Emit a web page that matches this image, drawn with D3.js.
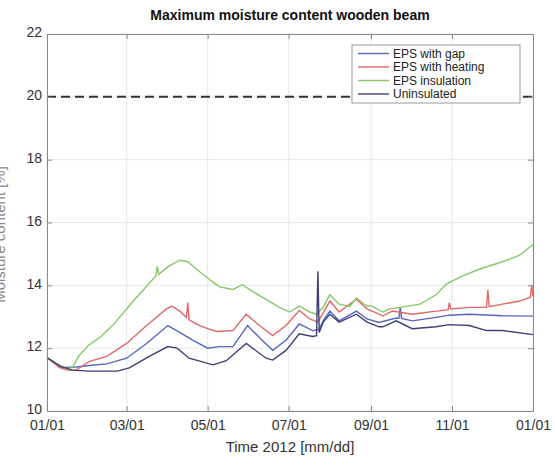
<!DOCTYPE html>
<html>
<head>
<meta charset="utf-8">
<script src="https://cdn.jsdelivr.net/npm/d3@7/dist/d3.min.js"></script>
<style>
  body { margin: 0; background: #fff; }
  text { font-family: "Liberation Sans", Arial, sans-serif; }
</style>
</head>
<body>
<div id="chart"></div>
<script>
// values: [date, moisture content]
const epsGap = [
  ["2012-01-01", 11.7], ["2012-01-11", 11.38], ["2012-01-23", 11.4], ["2012-02-02", 11.45],
  ["2012-02-15", 11.5], ["2012-03-01", 11.68], ["2012-03-16", 12.15], ["2012-04-01", 12.72],
  ["2012-04-08", 12.55], ["2012-04-20", 12.25], ["2012-05-01", 12.0], ["2012-05-10", 12.05],
  ["2012-05-20", 12.05], ["2012-05-31", 12.72], ["2012-06-11", 12.25], ["2012-06-19", 11.93],
  ["2012-06-29", 12.25], ["2012-07-09", 12.77], ["2012-07-19", 12.56], ["2012-07-24", 12.6],
  ["2012-07-27", 12.87], ["2012-08-01", 13.18], ["2012-08-08", 12.87], ["2012-08-21", 13.18],
  ["2012-08-29", 12.93], ["2012-09-07", 12.82], ["2012-09-20", 12.96], ["2012-09-22", 12.95],
  ["2012-09-23", 13.3], ["2012-09-24", 12.95], ["2012-10-02", 12.87], ["2012-10-20", 12.98],
  ["2012-10-30", 13.05], ["2012-11-14", 13.08], ["2012-12-09", 13.03], ["2013-01-01", 13.02]
];
const epsHeating = [
  ["2012-01-01", 11.7], ["2012-01-10", 11.4], ["2012-01-16", 11.3], ["2012-01-23", 11.3],
  ["2012-02-02", 11.58], ["2012-02-15", 11.74], ["2012-03-01", 12.15], ["2012-03-16", 12.72],
  ["2012-03-31", 13.25], ["2012-04-04", 13.34], ["2012-04-10", 13.18], ["2012-04-15", 12.98],
  ["2012-04-16", 13.45], ["2012-04-17", 12.9], ["2012-04-20", 12.83], ["2012-04-25", 12.72],
  ["2012-05-01", 12.62], ["2012-05-08", 12.53], ["2012-05-20", 12.56], ["2012-05-30", 13.08],
  ["2012-06-09", 12.72], ["2012-06-19", 12.4], ["2012-06-29", 12.72], ["2012-07-09", 13.2],
  ["2012-07-17", 12.93], ["2012-07-23", 12.83], ["2012-08-01", 13.5], ["2012-08-08", 13.15],
  ["2012-08-21", 13.56], ["2012-08-29", 13.25], ["2012-09-10", 13.03], ["2012-09-17", 13.18],
  ["2012-10-02", 13.08], ["2012-10-20", 13.18], ["2012-10-29", 13.22], ["2012-10-30", 13.45],
  ["2012-10-31", 13.25], ["2012-11-14", 13.3], ["2012-11-27", 13.3], ["2012-11-28", 13.86],
  ["2012-11-29", 13.32], ["2012-12-09", 13.4], ["2012-12-22", 13.5], ["2012-12-30", 13.62],
  ["2012-12-31", 14.0], ["2013-01-01", 13.65]
];
const epsInsulation = [
  ["2012-01-01", 11.7], ["2012-01-08", 11.5], ["2012-01-16", 11.35], ["2012-01-20", 11.38],
  ["2012-01-25", 11.75], ["2012-02-01", 12.08], ["2012-02-10", 12.35], ["2012-02-20", 12.75],
  ["2012-03-06", 13.5], ["2012-03-23", 14.3], ["2012-03-24", 14.6], ["2012-03-25", 14.35],
  ["2012-04-02", 14.62], ["2012-04-10", 14.8], ["2012-04-16", 14.75], ["2012-04-25", 14.43],
  ["2012-05-05", 14.1], ["2012-05-10", 13.95], ["2012-05-20", 13.87], ["2012-05-27", 14.02],
  ["2012-06-04", 13.8], ["2012-06-14", 13.55], ["2012-06-24", 13.3], ["2012-07-02", 13.15],
  ["2012-07-09", 13.34], ["2012-07-17", 13.15], ["2012-07-22", 13.08], ["2012-07-27", 13.3],
  ["2012-08-01", 13.7], ["2012-08-08", 13.4], ["2012-08-16", 13.33], ["2012-08-21", 13.6],
  ["2012-08-29", 13.33], ["2012-09-01", 13.35], ["2012-09-10", 13.15], ["2012-09-15", 13.25],
  ["2012-09-23", 13.3], ["2012-10-08", 13.4], ["2012-10-20", 13.7], ["2012-10-28", 14.05],
  ["2012-11-09", 14.3], ["2012-11-22", 14.52], ["2012-12-09", 14.75], ["2012-12-22", 14.96],
  ["2013-01-01", 15.3]
];
const uninsulated = [
  ["2012-01-01", 11.7], ["2012-01-11", 11.43], ["2012-01-20", 11.3], ["2012-02-02", 11.27],
  ["2012-02-23", 11.27], ["2012-03-03", 11.37], ["2012-03-18", 11.74], ["2012-04-01", 12.05],
  ["2012-04-08", 12.0], ["2012-04-17", 11.68], ["2012-05-05", 11.47], ["2012-05-15", 11.6],
  ["2012-05-30", 12.15], ["2012-06-14", 11.68], ["2012-06-19", 11.62], ["2012-06-29", 11.93],
  ["2012-07-09", 12.46], ["2012-07-19", 12.37], ["2012-07-22", 12.4], ["2012-07-23", 14.45],
  ["2012-07-24", 12.5], ["2012-07-27", 12.83], ["2012-08-01", 13.08], ["2012-08-08", 12.83],
  ["2012-08-21", 13.08], ["2012-08-29", 12.83], ["2012-09-07", 12.68], ["2012-09-10", 12.68],
  ["2012-09-20", 12.87], ["2012-10-02", 12.62], ["2012-10-20", 12.68], ["2012-10-30", 12.75],
  ["2012-11-14", 12.72], ["2012-11-27", 12.56], ["2012-12-09", 12.56], ["2013-01-01", 12.43]
];

const seriesNames = ["EPS with gap", "EPS with heating", "EPS insulation", "Uninsulated"];
const seriesColors = ["#5565c2", "#e06868", "#88c668", "#3f3f78"];
const seriesData = [epsGap, epsHeating, epsInsulation, uninsulated];

const yTicks = [10, 12, 14, 16, 18, 20, 22];
const xTickDates = ["2012-01-01", "2012-03-01", "2012-05-01", "2012-07-01", "2012-09-01", "2012-11-01", "2013-01-01"];
const limitValue = 20;

const width = 555, height = 470;
const margin = {top: 34, right: 22, bottom: 59, left: 47};
const parse = d3.timeParse("%Y-%m-%d");

const svg = d3.select("#chart").append("svg")
    .attr("width", width)
    .attr("height", height);

const x = d3.scaleTime()
    .domain([parse("2012-01-01"), parse("2013-01-01")])
    .range([margin.left, width - margin.right]);
const y = d3.scaleLinear()
    .domain([10, 22])
    .range([height - margin.bottom, margin.top]);

const x0 = x.range()[0], x1 = x.range()[1], y0 = y.range()[0], y1 = y.range()[1];

// grid
svg.append("g").selectAll("line")
    .data(xTickDates.map(parse))
    .enter().append("line")
    .attr("x1", d => x(d)).attr("x2", d => x(d))
    .attr("y1", y0).attr("y2", y1)
    .attr("stroke", "#e8e8e8");
svg.append("g").selectAll("line")
    .data(yTicks)
    .enter().append("line")
    .attr("x1", x0).attr("x2", x1)
    .attr("y1", d => y(d)).attr("y2", d => y(d))
    .attr("stroke", "#e8e8e8");

// limit line
svg.append("line")
    .attr("x1", x0).attr("x2", x1)
    .attr("y1", y(limitValue)).attr("y2", y(limitValue))
    .attr("stroke", "#333")
    .attr("stroke-width", 2)
    .attr("stroke-dasharray", "9,5");

// series
const line = d3.line()
    .x(d => x(parse(d[0])))
    .y(d => y(d[1]));

svg.append("g").selectAll("path")
    .data(seriesData)
    .enter().append("path")
    .attr("d", line)
    .attr("fill", "none")
    .attr("stroke", (d, i) => seriesColors[i])
    .attr("stroke-width", 1.4);

// axes (ticks inside, box)
const xAxis = svg.append("g")
    .attr("transform", `translate(0,${y0})`)
    .call(d3.axisBottom(x).tickValues(xTickDates.map(parse)).tickFormat(d3.timeFormat("%m/%d")).tickSize(-5).tickPadding(9));
const xTop = svg.append("g")
    .attr("transform", `translate(0,${y1})`)
    .call(d3.axisTop(x).tickValues(xTickDates.map(parse)).tickFormat("").tickSize(-5));
const yAxis = svg.append("g")
    .attr("transform", `translate(${x0},0)`)
    .call(d3.axisLeft(y).tickValues(yTicks).tickSize(-5).tickPadding(5));
const yRight = svg.append("g")
    .attr("transform", `translate(${x1},0)`)
    .call(d3.axisRight(y).tickValues(yTicks).tickFormat("").tickSize(-5));

[xAxis, xTop, yAxis, yRight].forEach(a => {
  a.select(".domain").attr("stroke", "#8a8a8a");
  a.selectAll(".tick line").attr("stroke", "#8a8a8a");
  a.selectAll("text").attr("fill", "#333").style("font-size", "14px");
});
yAxis.selectAll(".tick text").attr("dy", "0.2em");

// title and labels
svg.append("text")
    .attr("x", (x0 + x1) / 2).attr("y", 20)
    .attr("text-anchor", "middle")
    .style("font-size", "14px").style("font-weight", "bold")
    .attr("fill", "#111")
    .text("Maximum moisture content wooden beam");

svg.append("text")
    .attr("x", (x0 + x1) / 2).attr("y", 452)
    .attr("text-anchor", "middle")
    .style("font-size", "15px")
    .attr("fill", "#333")
    .text("Time 2012 [mm/dd]");

// y label is cropped at the left edge in the original
svg.append("text")
    .attr("transform", `translate(5,${(y0 + y1) / 2 + 12}) rotate(-90)`)
    .attr("text-anchor", "middle")
    .style("font-size", "15px")
    .attr("fill", "#888")
    .text("Moisture content [%]");

// legend
const lg = svg.append("g").attr("transform", "translate(352,45)");
lg.append("rect")
    .attr("width", 168).attr("height", 58)
    .attr("fill", "#fff")
    .attr("stroke", "#999");
const item = lg.selectAll(".item")
    .data(seriesNames)
    .enter().append("g")
    .attr("transform", (d, i) => `translate(0,${8.5 + i * 13.5})`);
item.append("line")
    .attr("x1", 6).attr("x2", 37)
    .attr("stroke", (d, i) => seriesColors[i])
    .attr("stroke-width", 1.4);
item.append("text")
    .attr("x", 41).attr("dy", "0.35em")
    .style("font-size", "12px")
    .attr("fill", "#222")
    .text(d => d);
</script>
</body>
</html>
